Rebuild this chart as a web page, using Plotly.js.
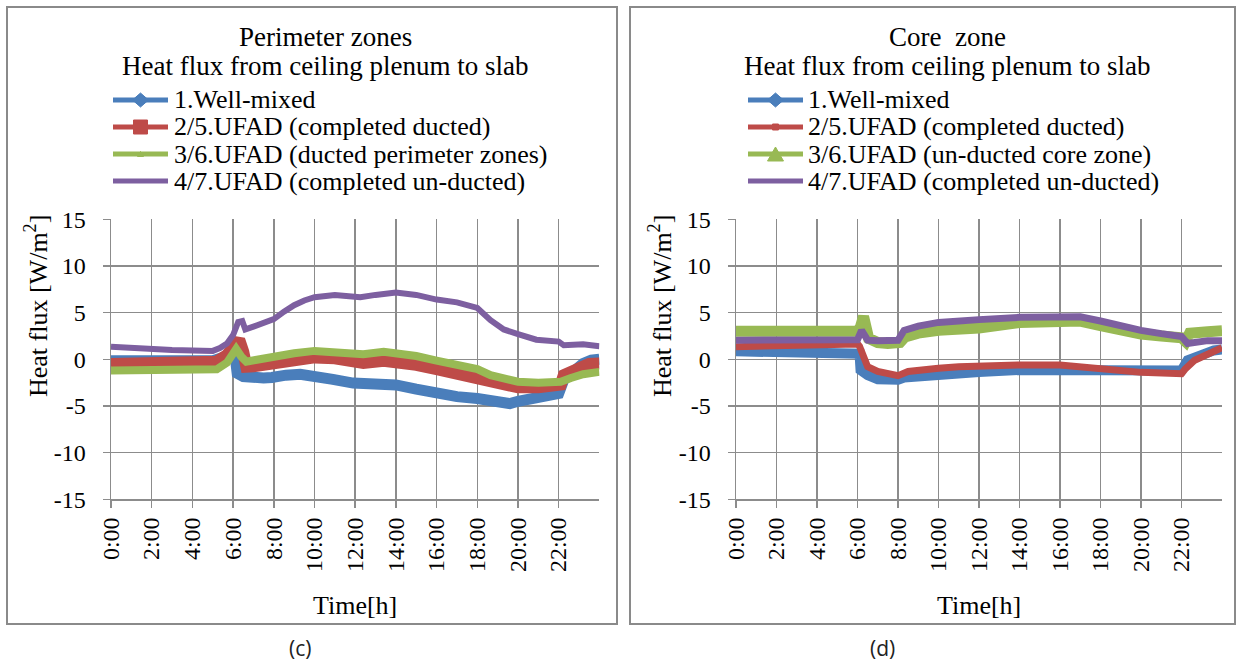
<!DOCTYPE html>
<html><head><meta charset="utf-8">
<script src="https://cdn.plot.ly/plotly-3.0.1.min.js"></script>
<style>html,body{margin:0;padding:0;background:#fff}#chart{width:1236px;height:666px}</style>
</head><body><div id="chart"></div>
<script>
// ---------- tick labels ----------
const tickHours = [0, 2, 4, 6, 8, 10, 12, 14, 16, 18, 20, 22];
const tickLabels = ['0:00','2:00','4:00','6:00','8:00','10:00','12:00','14:00','16:00','18:00','20:00','22:00'];
const yTicks = [-15, -10, -5, 0, 5, 10, 15];
const yTickLabels = ['-15', '-10', '-5', '0', '5', '10', '15'];

// ---------- series names ----------
const namesPerim = ['1.Well-mixed','2/5.UFAD (completed ducted)','3/6.UFAD (ducted perimeter zones)','4/7.UFAD (completed un-ducted)'];
const namesCore  = ['1.Well-mixed','2/5.UFAD (completed ducted)','3/6.UFAD (un-ducted core zone)','4/7.UFAD (completed un-ducted)'];

// ---------- (c) Perimeter zones ----------
const pBlueT = [0,1,2,3,4,5,5.5,6,6.1,6.2,6.5,7,7.5,7.9,8.1,8.6,9.3,10,10.9,11.9,12.5,13.4,14,15,16,17,18,19,19.6,20,21,22,22.25,22.75,23.2,23.6,24];
const pBlueV = [-0.15,-0.15,-0.15,-0.15,-0.15,-0.15,0.2,0.6,0.3,-1.5,-1.85,-2.0,-2.0,-1.95,-1.8,-1.7,-1.6,-1.75,-2.15,-2.55,-2.6,-2.65,-2.75,-3.2,-3.65,-4.0,-4.2,-4.55,-4.75,-4.5,-4.1,-3.65,-2.2,-1.1,-0.45,-0.1,0.0];

const pRedT = [0,1,2,3,4,5,5.2,5.7,6,6.3,6.5,6.65,7,7.5,7.8,8,9,10,11,11.75,12.4,13.4,14,15,16,17,18,18.65,19.5,20,21,22,22.1,22.25,22.9,23.5,24];
const pRedV = [-0.5,-0.45,-0.4,-0.4,-0.4,-0.35,-0.25,0.45,1.35,2.1,0.8,-0.8,-0.75,-0.6,-0.25,-0.3,-0.05,0.2,0.1,-0.1,-0.4,-0.15,-0.25,-0.6,-1.05,-1.55,-1.95,-2.4,-2.85,-3.0,-3.0,-3.0,-2.7,-1.7,-0.9,-0.5,-0.45];

const pGreenT = [0,1,2,3,4,5,5.2,5.7,6,6.15,6.4,6.65,7.1,7.5,8,9,10,11,11.75,12.4,13.4,14,15,16,17,18,18.65,19.5,20,21,21.6,22.1,22.6,23.2,24];
const pGreenV = [-1.2,-1.2,-1.2,-1.2,-1.2,-1.15,-1.07,-0.36,0.57,1.1,0.29,-0.25,-0.07,0.1,0.35,0.65,0.9,0.8,0.6,0.55,0.8,0.7,0.35,-0.15,-0.6,-1.05,-1.7,-2.2,-2.4,-2.5,-2.5,-2.4,-2.0,-1.6,-1.35];

const pPurpleT = [0,1,2,3,4,5,5.35,5.7,6,6.25,6.45,6.6,7,8,8.5,9,9.5,10,11,11.75,12.25,13,14,15,16,17,18,18.65,19.3,20,20.9,22,22.25,23.2,24];
const pPurpleV = [1.35,1.2,1.1,1.0,0.95,0.9,1.2,1.7,2.6,4.0,4.1,3.2,3.5,4.3,5.1,5.8,6.3,6.65,6.9,6.8,6.65,6.9,7.15,6.9,6.4,6.1,5.5,4.2,3.2,2.7,2.1,1.9,1.5,1.6,1.4];

// ---------- (d) Core zone ----------
const cBlueT = [0,2,4,6,6.1,6.15,6.5,7,7.5,8,8.3,9,10,11,12,14,16,18,19,20,22,22.3,23,23.6,24];
const cBlueV = [0.85,0.85,0.85,0.85,0.6,-1.15,-1.7,-2.15,-2.3,-2.2,-1.95,-1.8,-1.6,-1.45,-1.35,-1.15,-1.15,-1.15,-1.2,-1.2,-1.2,-0.1,0.6,0.95,1.05];

const cRedT = [0,2,4,6,6.1,6.3,6.5,7,7.5,8,8.5,9,10,11,12,14,16,17,18,19,20,22,22.2,22.65,23.3,24];
const cRedV = [1.35,1.5,1.55,1.65,1.4,0.1,-0.8,-1.3,-1.55,-1.75,-1.3,-1.15,-0.95,-0.8,-0.7,-0.6,-0.6,-0.8,-0.95,-1.2,-1.4,-1.55,-1.0,-0.1,0.6,1.25];

const cGreenT = [0,2,4,6,6.15,6.3,6.55,7,7.5,8,8.1,8.35,9,10,11,12,14,16,17,18,19,20,21,22,22.2,22.4,23.3,24];
const cGreenV = [3.0,3.05,3.05,3.0,3.5,4.6,2.25,1.8,1.7,1.7,1.8,2.4,2.8,3.1,3.2,3.35,3.95,4.15,4.1,3.6,3.1,2.7,2.5,2.3,1.9,2.8,2.95,3.05];

const cPurpleT = [0,2,4,6,6.2,6.5,7,8,8.3,9,10,11,12,14,16,17,18,19,20,21,22,22.3,23.3,24];
const cPurpleV = [2.05,2.05,2.05,2.1,3.1,2.05,2.0,2.05,3.1,3.55,3.95,4.15,4.25,4.5,4.6,4.55,4.1,3.55,3.1,2.75,2.45,1.7,2.0,2.0];

// ---------- styling ----------
const COLORS = ['#4a7ebb', '#be4b48', '#98b954', '#7d5fa0'];
const SERIF = 'Liberation Serif';
const GRID = '#8c8c8c';
const W = 1236, H = 666;
const px = x => x / W;
const py = y => 1 - y / H;

function tr(x, y, name, ci, width, xa, ya) {
  return {x: x, y: y, name: name, type: 'scatter', mode: 'lines',
    line: {color: COLORS[ci], width: width}, xaxis: xa, yaxis: ya,
    showlegend: false, hoverinfo: 'skip'};
}
const data = [
  tr(pBlueT, pBlueV, namesPerim[0], 0, 11, 'x', 'y'),
  tr(pRedT, pRedV, namesPerim[1], 1, 12, 'x', 'y'),
  tr(pGreenT, pGreenV, namesPerim[2], 2, 8, 'x', 'y'),
  tr(pPurpleT, pPurpleV, namesPerim[3], 3, 6, 'x', 'y'),
  tr(cBlueT, cBlueV, namesCore[0], 0, 10, 'x2', 'y2'),
  tr(cRedT, cRedV, namesCore[1], 1, 7, 'x2', 'y2'),
  tr(cGreenT, cGreenV, namesCore[2], 2, 11, 'x2', 'y2'),
  tr(cPurpleT, cPurpleV, namesCore[3], 3, 7, 'x2', 'y2')
];

function xax(d0, d1, anchor) {
  return {domain: [px(d0), px(d1)], range: [0, 24], anchor: anchor,
    tickmode: 'array', tickvals: tickHours, ticktext: tickLabels, tickangle: -90,
    showgrid: true, gridcolor: GRID, gridwidth: 1.5,
    showline: true, linecolor: GRID, linewidth: 1.5,
    ticks: 'outside', ticklen: 7, tickcolor: GRID, tickwidth: 1.5,
    tickfont: {family: SERIF, size: 24, color: '#000'}, zeroline: false, fixedrange: true};
}
function yax(anchor) {
  return {domain: [py(499.3), py(219.3)], range: [-15, 15], anchor: anchor,
    tickmode: 'array', tickvals: yTicks, ticktext: yTickLabels,
    showgrid: true, gridcolor: GRID, gridwidth: 1.5,
    showline: true, linecolor: GRID, linewidth: 1.5,
    ticks: 'outside', ticklen: 7, tickcolor: GRID, tickwidth: 1.5,
    ticklabelstandoff: 12,
    tickfont: {family: SERIF, size: 24, color: '#000'}, zeroline: false, fixedrange: true};
}

const shapes = [];
const annotations = [];
// panel frames
shapes.push({type: 'rect', xref: 'paper', yref: 'paper', x0: px(7), x1: px(617), y0: py(624), y1: py(7), line: {color: '#8a8a8a', width: 2}});
shapes.push({type: 'rect', xref: 'paper', yref: 'paper', x0: px(630), x1: px(1235), y0: py(624), y1: py(7), line: {color: '#8a8a8a', width: 2}});

function txt(x, y, text, size, opts) {
  annotations.push(Object.assign({xref: 'paper', yref: 'paper', x: px(x), y: py(y), text: text, showarrow: false,
    font: {family: SERIF, size: size, color: '#000'}, xanchor: 'center', yanchor: 'middle'}, opts || {}));
}
// titles
txt(325, 37, 'Perimeter zones', 27);
txt(325, 66, 'Heat flux from ceiling plenum to slab', 27);
txt(947, 37, 'Core  zone', 27);
txt(947, 66, 'Heat flux from ceiling plenum to slab', 27);
// axis titles
txt(36, 306, 'Heat flux [W/m<sup>2</sup>]', 26, {textangle: -90});
txt(660, 306, 'Heat flux [W/m<sup>2</sup>]', 26, {textangle: -90});
txt(355, 605, 'Time[h]', 26);
txt(979, 605, 'Time[h]', 26);
// panel labels
txt(300, 648, '(c)', 21, {font: {family: 'Open Sans', size: 21, color: '#222'}});
txt(882, 648, '(d)', 21, {font: {family: 'Open Sans', size: 21, color: '#222'}});

// legend drawing helpers
function diamond(cx, cy, hw, hh, color) {
  shapes.push({type: 'path', xref: 'paper', yref: 'paper', fillcolor: color, line: {color: color, width: 1},
    path: `M ${px(cx-hw)} ${py(cy)} L ${px(cx)} ${py(cy-hh)} L ${px(cx+hw)} ${py(cy)} L ${px(cx)} ${py(cy+hh)} Z`});
}
function square(cx, cy, h, color) {
  shapes.push({type: 'rect', xref: 'paper', yref: 'paper', fillcolor: color, line: {color: color, width: 1},
    x0: px(cx-h), x1: px(cx+h), y0: py(cy+h), y1: py(cy-h)});
}
function triangle(cx, cy, hw, hh, color) {
  shapes.push({type: 'path', xref: 'paper', yref: 'paper', fillcolor: color, line: {color: color, width: 1},
    path: `M ${px(cx-hw)} ${py(cy+hh)} L ${px(cx)} ${py(cy-hh)} L ${px(cx+hw)} ${py(cy+hh)} Z`});
}
function legend(x0, x1, tx, names, markers) {
  const rows = [100, 127, 154, 181];
  names.forEach((n, i) => {
    shapes.push({type: 'line', xref: 'paper', yref: 'paper', x0: px(x0), x1: px(x1), y0: py(rows[i]), y1: py(rows[i]),
      line: {color: COLORS[i], width: 5}});
    const cx = (x0 + x1) / 2, m = markers[i];
    if (m[0] === 'd') diamond(cx, rows[i], m[1], m[2], COLORS[i]);
    if (m[0] === 's') square(cx, rows[i], m[1], COLORS[i]);
    if (m[0] === 't') triangle(cx, rows[i], m[1], m[2], COLORS[i]);
    txt(tx, rows[i], n, 26, {xanchor: 'left'});
  });
}
legend(113, 168, 172, namesPerim, [['d', 8, 7], ['s', 7], ['t', 3, 2.5], ['n']]);
legend(748, 803, 806, namesCore, [['d', 8, 7], ['s', 3], ['t', 8, 7], ['n']]);

const layout = {
  width: W, height: H, margin: {l: 0, r: 0, t: 0, b: 0},
  paper_bgcolor: '#fff', plot_bgcolor: 'rgba(0,0,0,0)', showlegend: false,
  font: {family: SERIF},
  xaxis: xax(111, 599.4, 'y'), yaxis: yax('x'),
  xaxis2: xax(736, 1222, 'y2'), yaxis2: yax('x2'),
  shapes: shapes, annotations: annotations
};
Plotly.newPlot('chart', data, layout, {staticPlot: true, displayModeBar: false});
</script></body></html>
